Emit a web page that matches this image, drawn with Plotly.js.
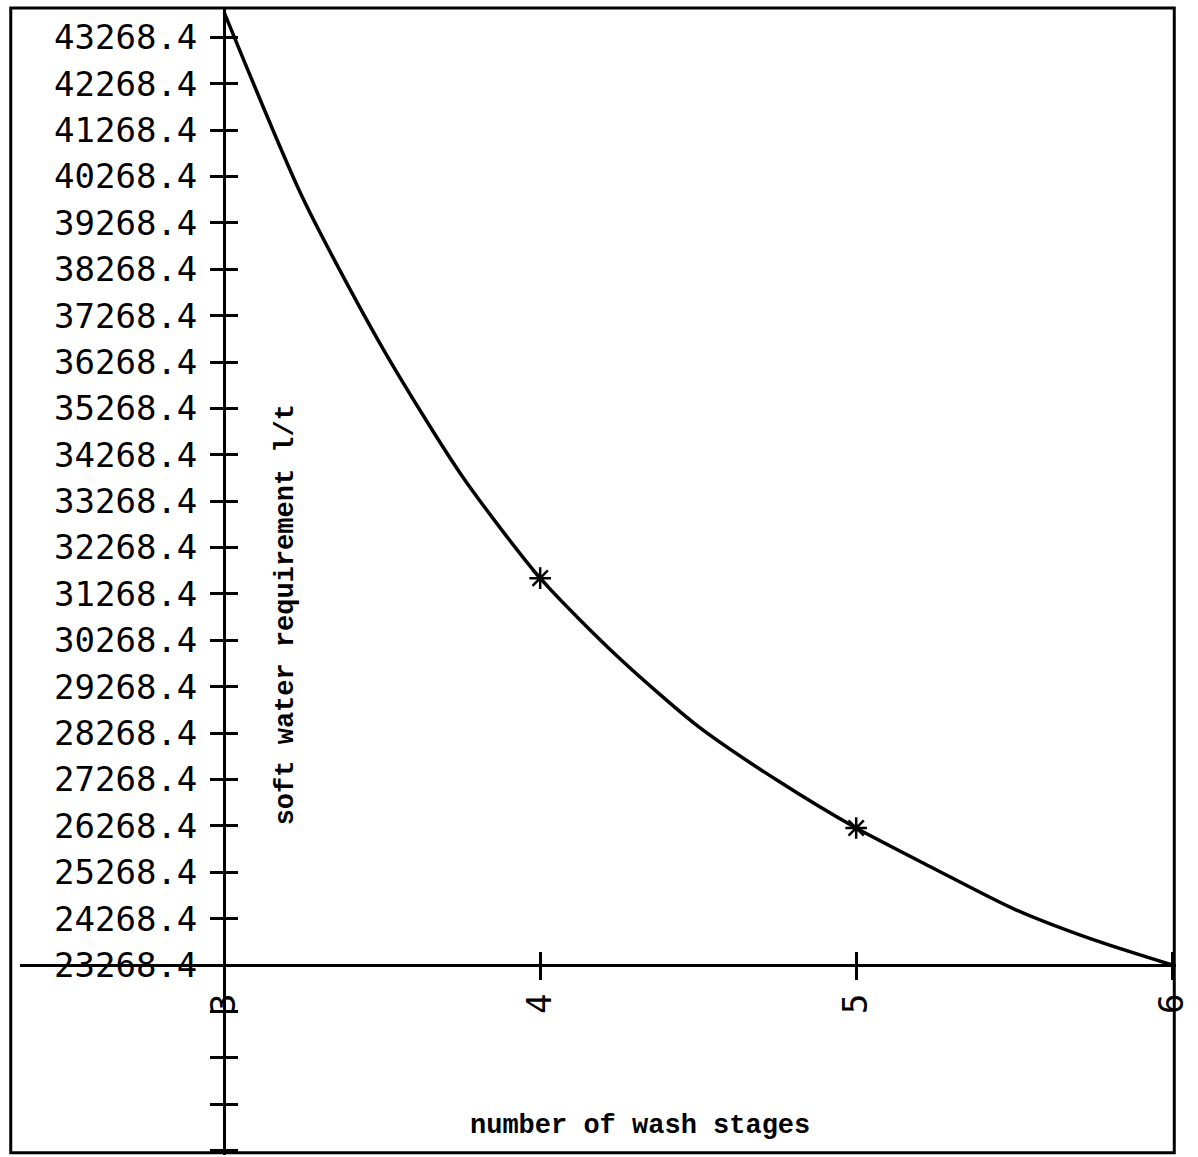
<!DOCTYPE html>
<html>
<head>
<meta charset="utf-8">
<script src="https://cdn.plot.ly/plotly-3.0.1.min.js"></script>
<style>html,body{margin:0;padding:0;background:#fff;}#chart{width:1198px;height:1157px;}</style>
</head>
<body>
<div id="chart"></div>
<script>
// Curve (number of wash stages vs soft water requirement l/t)
const curveX = [3.0, 3.25, 3.5, 3.75, 4.0, 4.25, 4.5, 4.75, 5.0, 5.25, 5.5, 5.75, 6.0];
const curveY = [43807, 39786, 36585, 33839, 31609, 29886, 28412, 27250, 26221, 25334, 24474, 23814, 23268.4];
// Marked points (asterisks)
const markX = [4, 5];
const markY = [31609, 26221];
// Axis ticks
const xTickVals = [3, 4, 5, 6];
const xTickText = ['3', '4', '5', '6'];
const yTickVals = [19268.4, 20268.4, 21268.4, 22268.4, 23268.4, 24268.4, 25268.4, 26268.4, 27268.4, 28268.4, 29268.4, 30268.4, 31268.4, 32268.4, 33268.4, 34268.4, 35268.4, 36268.4, 37268.4, 38268.4, 39268.4, 40268.4, 41268.4, 42268.4, 43268.4];
const yTickText = ['', '', '', '', '23268.4', '24268.4', '25268.4', '26268.4', '27268.4', '28268.4', '29268.4', '30268.4', '31268.4', '32268.4', '33268.4', '34268.4', '35268.4', '36268.4', '37268.4', '38268.4', '39268.4', '40268.4', '41268.4', '42268.4', '43268.4'];
const xTitle = 'number of wash stages';
const yTitle = 'soft water requirement l/t';

const xRange = [2.354, 6.012];
const yRange = [19173, 43900];
const xPos = (23268.4 - yRange[0]) / (yRange[1] - yRange[0]);
const yPos = (3 - xRange[0]) / (xRange[1] - xRange[0]);

const tickFont = {family: 'DejaVu Sans Mono', size: 34, color: '#000'};
const typeFont = {family: 'Liberation Mono', size: 27, color: '#000', weight: 'bold'};

const traces = [
  {x: curveX, y: curveY, type: 'scatter', mode: 'lines',
   line: {color: '#000', width: 3.5, shape: 'spline', smoothing: 0.7},
   xaxis: 'x', yaxis: 'y', hoverinfo: 'skip', showlegend: false},
  {x: markX, y: markY, type: 'scatter', mode: 'markers',
   marker: {symbol: 'asterisk-open', size: 18, color: '#000', line: {color: '#000', width: 2.5}},
   xaxis: 'x2', yaxis: 'y2', hoverinfo: 'skip', showlegend: false}
];

const baseX = {range: xRange, tickvals: xTickVals, showgrid: false, zeroline: false,
  anchor: 'free', position: xPos, tickwidth: 3, tickcolor: '#000', ticklen: 13, fixedrange: true};
const baseY = {range: yRange, tickvals: yTickVals, showgrid: false, zeroline: false,
  anchor: 'free', position: yPos, tickwidth: 3, tickcolor: '#000', ticklen: 13, fixedrange: true};

const layout = {
  width: 1198, height: 1157,
  margin: {l: 20, r: 22, t: 8, b: 2, pad: 0},
  paper_bgcolor: '#fff', plot_bgcolor: '#fff',
  showlegend: false,
  xaxis: Object.assign({}, baseX, {ticks: 'outside', showline: true, linecolor: '#000', linewidth: 3,
    ticktext: xTickText, tickangle: -90, tickfont: tickFont, ticklabeloverflow: 'allow'}),
  yaxis: Object.assign({}, baseY, {ticks: 'outside', showline: true, linecolor: '#000', linewidth: 3,
    ticktext: yTickText, tickfont: tickFont, ticklabelstandoff: 6, ticklabeloverflow: 'allow'}),
  xaxis2: Object.assign({}, baseX, {overlaying: 'x', ticks: 'inside', showline: false, showticklabels: false}),
  yaxis2: Object.assign({}, baseY, {overlaying: 'y', ticks: 'inside', showline: false, showticklabels: false}),
  shapes: [
    {type: 'rect', xref: 'paper', yref: 'paper', x0: -0.008, x1: 0.9985, y0: 0.002, y1: 1.0,
     line: {color: '#000', width: 3}, fillcolor: 'rgba(0,0,0,0)'}
  ],
  annotations: [
    {text: yTitle, xref: 'paper', yref: 'paper', x: 0.2304, y: 0.4708, showarrow: false,
     textangle: -90, font: typeFont, xanchor: 'center', yanchor: 'middle'},
    {text: xTitle, xref: 'paper', yref: 'paper', x: 0.5366, y: 0.0253, showarrow: false,
     font: typeFont, xanchor: 'center', yanchor: 'middle'}
  ]
};

Plotly.newPlot('chart', traces, layout, {displayModeBar: false, staticPlot: true});
</script>
</body>
</html>
